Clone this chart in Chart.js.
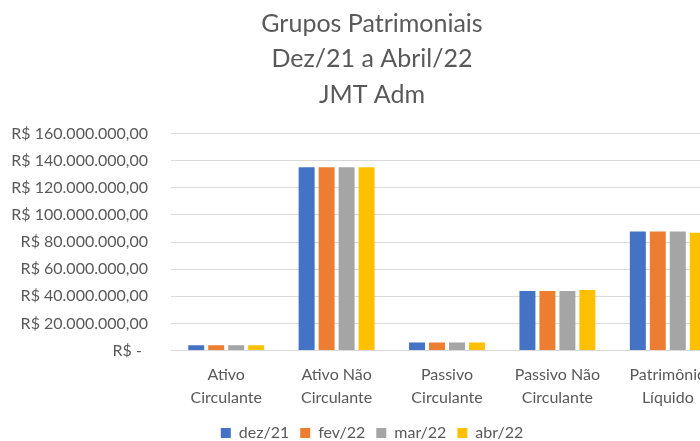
<!DOCTYPE html>
<html>
<head>
<meta charset="utf-8">
<script src="https://cdn.jsdelivr.net/npm/chart.js@4/dist/chart.umd.min.js"></script>
<style>
html,body{margin:0;padding:0;background:#fff;overflow:hidden;width:700px;height:441px;}
#wrap{width:744px;height:441px;}
</style>
</head>
<body>
<div id="wrap"><canvas id="c" width="744" height="441"></canvas></div>
<script>
const categories = [
  ['Ativo', 'Circulante'],
  ['Ativo Não', 'Circulante'],
  ['Passivo', 'Circulante'],
  ['Passivo Não', 'Circulante'],
  ['Patrimônio', 'Líquido']
];
const seriesNames = ['dez/21', 'fev/22', 'mar/22', 'abr/22'];
const dez21 = [4000000, 135200000, 6000000, 43900000, 87800000];
const fev22 = [4000000, 135200000, 6000000, 43900000, 87800000];
const mar22 = [4000000, 135200000, 6000000, 43900000, 87800000];
const abr22 = [4000000, 135200000, 6000000, 44600000, 86800000];
const colors = ['#4472C4', '#ED7D31', '#A5A5A5', '#FFC000'];
const titleLines = ['Grupos Patrimoniais', 'Dez/21 a Abril/22', 'JMT Adm'];

const FONT = 'Lato, "Open Sans", sans-serif';
const fmt = v => {
  if (v === 0) return 'R$ - \u2009';
  const s = Math.round(v).toString().replace(/\B(?=(\d{3})+(?!\d))/g, '.');
  return 'R$ ' + s + ',00';
};

// centre title and legend on the whole chart frame (left inset equal to right inset)
const centerBlocks = {
  id: 'centerBlocks',
  afterLayout(chart) {
    const inset = 21;
    if (chart.titleBlock) { chart.titleBlock.left = inset; chart.titleBlock.width = chart.titleBlock.right - inset; }
    if (chart.legend) { chart.legend.left = inset; chart.legend.width = chart.legend.right - inset; }
  }
};

const seriesData = [dez21, fev22, mar22, abr22];
new Chart(document.getElementById('c'), {
  type: 'bar',
  data: {
    labels: categories,
    datasets: seriesNames.map((n, i) => ({
      label: n,
      data: seriesData[i],
      backgroundColor: colors[i],
      borderWidth: 0,
      categoryPercentage: 0.724,
      barPercentage: 0.8
    }))
  },
  plugins: [centerBlocks],
  options: {
    responsive: false,
    animation: false,
    layout: { padding: { left: 0, right: 21, top: 2, bottom: -10 } },
    plugins: {
      title: {
        display: true,
        text: titleLines,
        color: '#595959',
        font: { family: FONT, size: 25, weight: 'normal', lineHeight: 1.42 },
        padding: { top: 4, bottom: 21 }
      },
      legend: {
        position: 'bottom',
        labels: {
          color: '#595959',
          font: { family: FONT, size: 16 },
          boxWidth: 10,
          boxHeight: 10,
          padding: 11
        }
      },
      tooltip: { enabled: false }
    },
    scales: {
      x: {
        grid: { display: false },
        border: { color: '#d9d9d9', width: 1 },
        ticks: {
          color: '#595959',
          font: { family: FONT, size: 16, lineHeight: 1.42 },
          maxRotation: 0,
          autoSkip: false,
          padding: 5
        }
      },
      y: {
        min: 0,
        max: 160000000,
        afterFit: s => { s.width = 171; },
        grid: { color: '#d9d9d9', drawTicks: false },
        border: { display: false },
        ticks: {
          stepSize: 20000000,
          color: '#595959',
          font: { family: FONT, size: 16 },
          padding: 23,
          callback: v => fmt(v)
        }
      }
    }
  }
});
</script>
</body>
</html>
